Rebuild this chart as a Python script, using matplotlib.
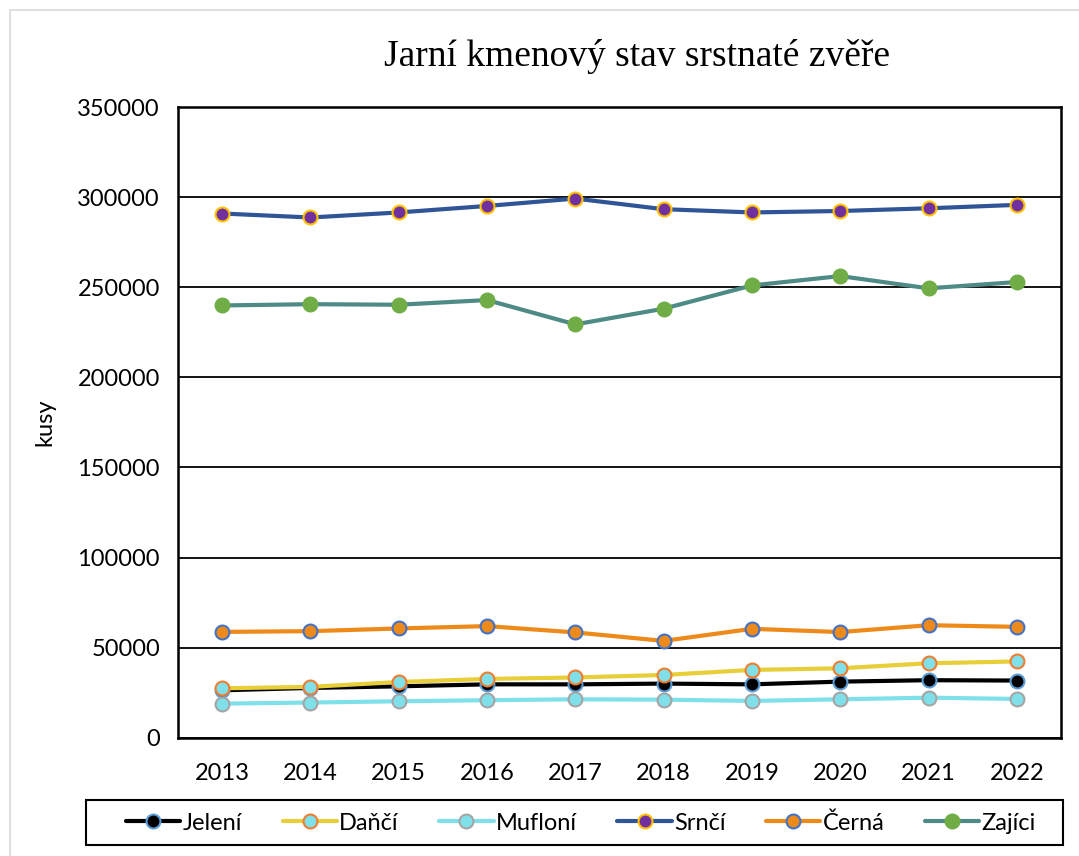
import matplotlib
matplotlib.use("Agg")
import matplotlib.pyplot as plt
from matplotlib.patches import Rectangle

plt.rcParams['font.family'] = ['Lato', 'DejaVu Sans']

years = ['2013', '2014', '2015', '2016', '2017', '2018', '2019', '2020', '2021', '2022']

jeleni = [26400, 27700, 28600, 29700, 29700, 30100, 29700, 31200, 32000, 31800]
danci = [27500, 28300, 31000, 32700, 33500, 34900, 37700, 38600, 41400, 42400]
mufloni = [19000, 19600, 20300, 20900, 21400, 21200, 20500, 21400, 22300, 21600]
srnci = [290900, 288700, 291500, 295100, 299200, 293300, 291500, 292300, 293800, 295700]
cerna = [58800, 59200, 60700, 62000, 58500, 53800, 60500, 58700, 62500, 61600]
zajici = [239900, 240600, 240300, 242900, 229400, 238100, 251000, 256200, 249400, 252900]

names = ['Jelení', 'Daňčí', 'Mufloní', 'Srnčí', 'Černá', 'Zajíci']
series = [jeleni, danci, mufloni, srnci, cerna, zajici]
# (line colour, marker face, marker edge)
styles = [('#000000', '#000000', '#5b9bd5'),
          ('#e8cf3a', '#80e0ea', '#ed7d31'),
          ('#80e0ea', '#80e0ea', '#a5a5a5'),
          ('#2f5597', '#7030a0', '#ffc000'),
          ('#ee8a1a', '#ee8a1a', '#4472c4'),
          ('#4e8a86', '#70ad47', '#70ad47')]

fig = plt.figure(figsize=(10.79, 8.56), dpi=100)
fig.patches.append(Rectangle((0.009, -0.01), 1.2, 0.998, transform=fig.transFigure,
                             fill=False, edgecolor='#d9d9d9', linewidth=1.2))
# legend frame drawn separately so the entries can sit inset
fig.patches.append(Rectangle((86 / 1079, 1 - 845 / 856), 977 / 1079, 45 / 856,
                             transform=fig.transFigure, fill=False,
                             edgecolor='black', linewidth=1.5))

ax = fig.add_axes([0.165, 0.138, 0.8183, 0.737])
x = list(range(len(years)))
for name, vals, (lc, mf, me) in zip(names, series, styles):
    ax.plot(x, vals, color=lc, linewidth=3, marker='o', markersize=10,
            markerfacecolor=mf, markeredgecolor=me, markeredgewidth=1.5,
            label=name, solid_capstyle='round')

ax.set_xlim(-0.5, len(years) - 0.5)
ax.set_ylim(0, 350000)
ax.set_yticks(range(0, 350001, 50000))
ax.set_xticks(x)
ax.set_xticklabels(years)
ax.grid(axis='y', color='black', linewidth=1.3)
ax.set_axisbelow(True)
for s in ax.spines.values():
    s.set_linewidth(1.8)
    s.set_color('black')
ax.tick_params(length=0, labelsize=17, pad=13)
ax.tick_params(axis='x', pad=18)
ax.set_ylabel('kusy', fontsize=17, labelpad=16)

fig.text(0.59, 0.934, 'Jarní kmenový stav srstnaté zvěře', ha='center', va='center',
         fontsize=27, family=['Liberation Serif', 'DejaVu Serif'])

leg = fig.legend(loc='center left', bbox_to_anchor=(126 / 1079, 1 - 823 / 856, 910 / 1079, 0),
                 mode='expand', ncol=6, fontsize=17, frameon=False,
                 handlelength=2.3, borderaxespad=0, handletextpad=0.1, borderpad=0)

fig.savefig('out.png', dpi=100)
